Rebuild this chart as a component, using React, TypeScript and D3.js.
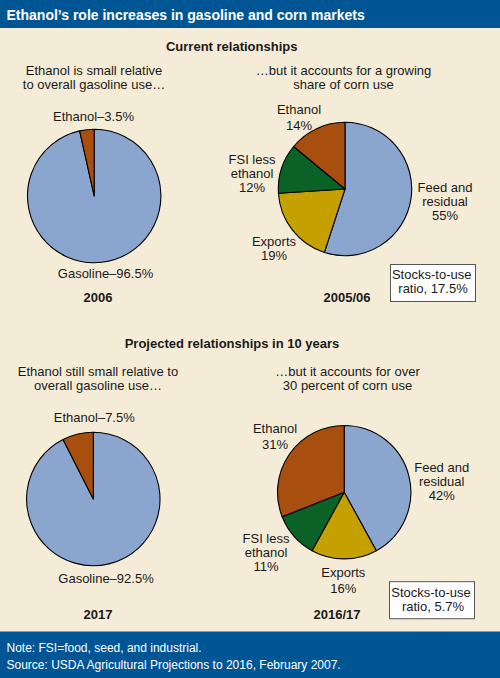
import React from 'react';
import * as d3 from 'd3';

const gasolineLabels = ['Gasoline', 'Ethanol'];
const gasoline2006 = [96.5, 3.5];
const gasoline2017 = [92.5, 7.5];

const cornLabels = ['Feed and residual', 'Exports', 'FSI less ethanol', 'Ethanol'];
const corn200506 = [55, 19, 12, 14];
const corn201617 = [42, 16, 11, 31];

const gasolineColors = ['#8aa6ce', '#a84e0f'];
const cornColors = ['#8aa6ce', '#c4a000', '#0b6227', '#a84e0f'];

const BLUE = '#005695';
const PAPER = '#f5ecd7';
const INK = '#1a1a1a';
const FONT = '"Liberation Sans", Arial, sans-serif';
const FONT_SIZE = 13;

function Pie({ values, colors, names, cx, cy, r }: {
  values: number[]; colors: string[]; names: string[]; cx: number; cy: number; r: number;
}) {
  const slices = d3.pie<number>().sort(null).value(d => d)(values);
  const arc = d3.arc<d3.PieArcDatum<number>>().innerRadius(0).outerRadius(r);
  return (
    <g transform={`translate(${cx},${cy})`}>
      {slices.map((s, i) => (
        <path key={names[i]} d={arc(s) || ''} fill={colors[i]} stroke="#000" strokeWidth={1.1} strokeLinejoin="round" />
      ))}
    </g>
  );
}

// lines are [text, baseline]; all centered on x
function Label({ x, lines, bold, size }: { x: number; lines: [string, number][]; bold?: boolean; size?: number }) {
  return (
    <g textAnchor="middle" fill={INK} fontWeight={bold ? 700 : 400} fontSize={size || FONT_SIZE}>
      {lines.map(([t, y]) => <text key={t} x={x} y={y}>{t}</text>)}
    </g>
  );
}

function RatioBox({ x, y, w, h, lines }: { x: number; y: number; w: number; h: number; lines: [string, number, number][] }) {
  return (
    <g>
      <rect x={x} y={y} width={w} height={h} fill="#fff" stroke="#555" strokeWidth={1} />
      {lines.map(([t, tx, ty]) => <text key={t} x={tx} y={ty} textAnchor="middle" fill={INK} fontSize={FONT_SIZE}>{t}</text>)}
    </g>
  );
}

export default function App() {
  return (
    <svg
      width={500}
      height={678}
      viewBox="0 0 500 678"
      fontFamily={FONT}
      style={{ position: 'absolute', left: 0, top: 0, display: 'block' }}
    >
      <rect width={500} height={678} fill={PAPER} />

      {/* header */}
      <rect width={500} height={28} fill={BLUE} />
      <text x={6.5} y={20} fill="#fff" fontWeight={700} fontSize={14}>
        Ethanol’s role increases in gasoline and corn markets
      </text>

      {/* current */}
      <Label x={231.7} bold lines={[['Current relationships', 50.5]]} />
      <Label x={94} lines={[['Ethanol is small relative', 75], ['to overall gasoline use…', 89]]} />
      <Pie values={gasoline2006} colors={gasolineColors} names={gasolineLabels} cx={94.2} cy={196} r={66.7} />
      <Label x={93.5} lines={[[`Ethanol–${gasoline2006[1]}%`, 121]]} />
      <Label x={105.5} lines={[[`Gasoline–${gasoline2006[0]}%`, 278]]} />
      <Label x={98} bold lines={[['2006', 301.5]]} />

      <Label x={343.5} lines={[['…but it accounts for a growing', 75], ['share of corn use', 89]]} />
      <Pie values={corn200506} colors={cornColors} names={cornLabels} cx={345} cy={189} r={66.7} />
      <Label x={299} lines={[['Ethanol', 114], [`${corn200506[3]}%`, 129.5]]} />
      <Label x={252} lines={[['FSI less', 164], ['ethanol', 178], [`${corn200506[2]}%`, 192]]} />
      <Label x={445} lines={[['Feed and', 191.7], ['residual', 205.7], [`${corn200506[0]}%`, 219.7]]} />
      <Label x={274} lines={[['Exports', 246], [`${corn200506[1]}%`, 260]]} />
      <RatioBox x={390.5} y={264.5} w={85} h={37} lines={[['Stocks-to-use', 431.7, 279], ['ratio, 17.5%', 433, 293]]} />
      <Label x={347} bold lines={[['2005/06', 301.5]]} />

      {/* projected */}
      <Label x={232} bold lines={[['Projected relationships in 10 years', 348.3]]} />
      <Label x={98} lines={[['Ethanol still small relative to', 375.5], ['overall gasoline use…', 389.5]]} />
      <Pie values={gasoline2017} colors={gasolineColors} names={gasolineLabels} cx={93.3} cy={499} r={66.7} />
      <Label x={94.3} lines={[[`Ethanol–${gasoline2017[1]}%`, 422]]} />
      <Label x={106} lines={[[`Gasoline–${gasoline2017[0]}%`, 582.7]]} />
      <Label x={98} bold lines={[['2017', 619]]} />

      <Label x={347.5} lines={[['…but it accounts for over', 375.5], ['30 percent of corn use', 389.5]]} />
      <Pie values={corn201617} colors={cornColors} names={cornLabels} cx={344.2} cy={492.2} r={66.7} />
      <Label x={275} lines={[['Ethanol', 433], [`${corn201617[3]}%`, 448.7]]} />
      <Label x={441.7} lines={[['Feed and', 471.7], ['residual', 485.7], [`${corn201617[0]}%`, 499.7]]} />
      <Label x={266} lines={[['FSI less', 543], ['ethanol', 557], [`${corn201617[2]}%`, 571]]} />
      <Label x={343.3} lines={[['Exports', 576.7], [`${corn201617[1]}%`, 592.7]]} />
      <RatioBox x={389.5} y={581.7} w={85} h={37} lines={[['Stocks-to-use', 431, 596.7], ['ratio, 5.7%', 433, 610.7]]} />
      <Label x={337} bold lines={[['2016/17', 619]]} />

      {/* footer */}
      <rect y={631.5} width={500} height={46.5} fill={BLUE} />
      <g fill="#fff" fontSize={12}>
        <text x={6.5} y={651.7}>Note: FSI=food, seed, and industrial.</text>
        <text x={6.5} y={669}>Source: USDA Agricultural Projections to 2016, February 2007.</text>
      </g>
    </svg>
  );
}
